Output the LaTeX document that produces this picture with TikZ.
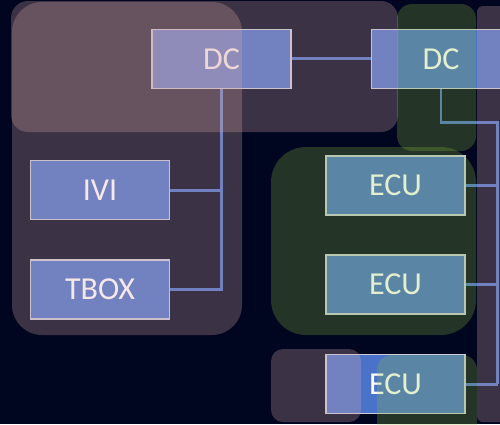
\documentclass[tikz,border=0pt]{standalone}
\usepackage{fontspec}
\setmainfont{Carlito}
\definecolor{navy}{RGB}{0,5,32}
\definecolor{nodeblue}{RGB}{74,114,200}
\definecolor{nodeborder}{RGB}{200,202,216}
\definecolor{purpov}{RGB}{222,172,169}
\definecolor{greenov}{RGB}{144,193,60}
\tikzset{
  unit/.style={draw=nodeborder, line width=1.2pt, fill=nodeblue, text=white,
    minimum width=139pt, minimum height=59pt, inner sep=0pt,
    font=\fontsize{32}{38}\selectfont},
  conn/.style={draw=nodeblue, line width=2.7pt},
  purplezone/.style={fill=purpov, fill opacity=0.27},
  greenzone/.style={fill=greenov, fill opacity=0.25}
}
\begin{document}
\begin{tikzpicture}[x=1pt,y=-1pt]
\useasboundingbox (0,0) rectangle (500,424);
\clip (0,0) rectangle (500,424);
\fill[navy] (0,0) rectangle (500,424);
% nodes
\node[unit] (DCL) at (221.5,58.8) {DC};
\node[unit] (DCR) at (441,58.8) {DC};
\node[unit] (IVI) at (100,190.2) {IVI};
\node[unit] (TBOX) at (100,289.5) {TBOX};
\node[unit] (ECUa) at (395.5,185.5) {ECU};
\node[unit] (ECUb) at (395.5,284.5) {ECU};
\node[unit] (ECUc) at (395.5,384.3) {ECU};
% connectors
\coordinate (busT) at (497.5,122.5);
\coordinate (busB) at (497.5,384.3);
\draw[conn] (DCL) -- (DCR);
\draw[conn] (IVI.east) -| (DCL.south);
\draw[conn] (TBOX.east) -| (DCL.south);
\draw[conn] (DCR.south) |- (busT) -- (busB);
\draw[conn] (ECUa.east) -- (ECUa.east -| busT);
\draw[conn] (ECUb.east) -- (ECUb.east -| busT);
\draw[conn] (ECUc.east) -- (ECUc.east -| busT);
% translucent zones
\fill[purplezone, rounded corners=17pt] (11,1) rectangle (398,132);
\fill[purplezone, rounded corners=30pt] (12,2) rectangle (242,335);
\fill[purplezone, rounded corners=6pt] (477,6) rectangle (540,422);
\fill[purplezone, rounded corners=12pt] (271,349) rectangle (361,422);
\fill[greenzone, rounded corners=15pt] (397,4) rectangle (476,151);
\fill[greenzone, rounded corners=35pt] (271,147) rectangle (476,335);
\fill[greenzone, rounded corners=15pt] (377,355) rectangle (477,450);
\end{tikzpicture}
\end{document}
